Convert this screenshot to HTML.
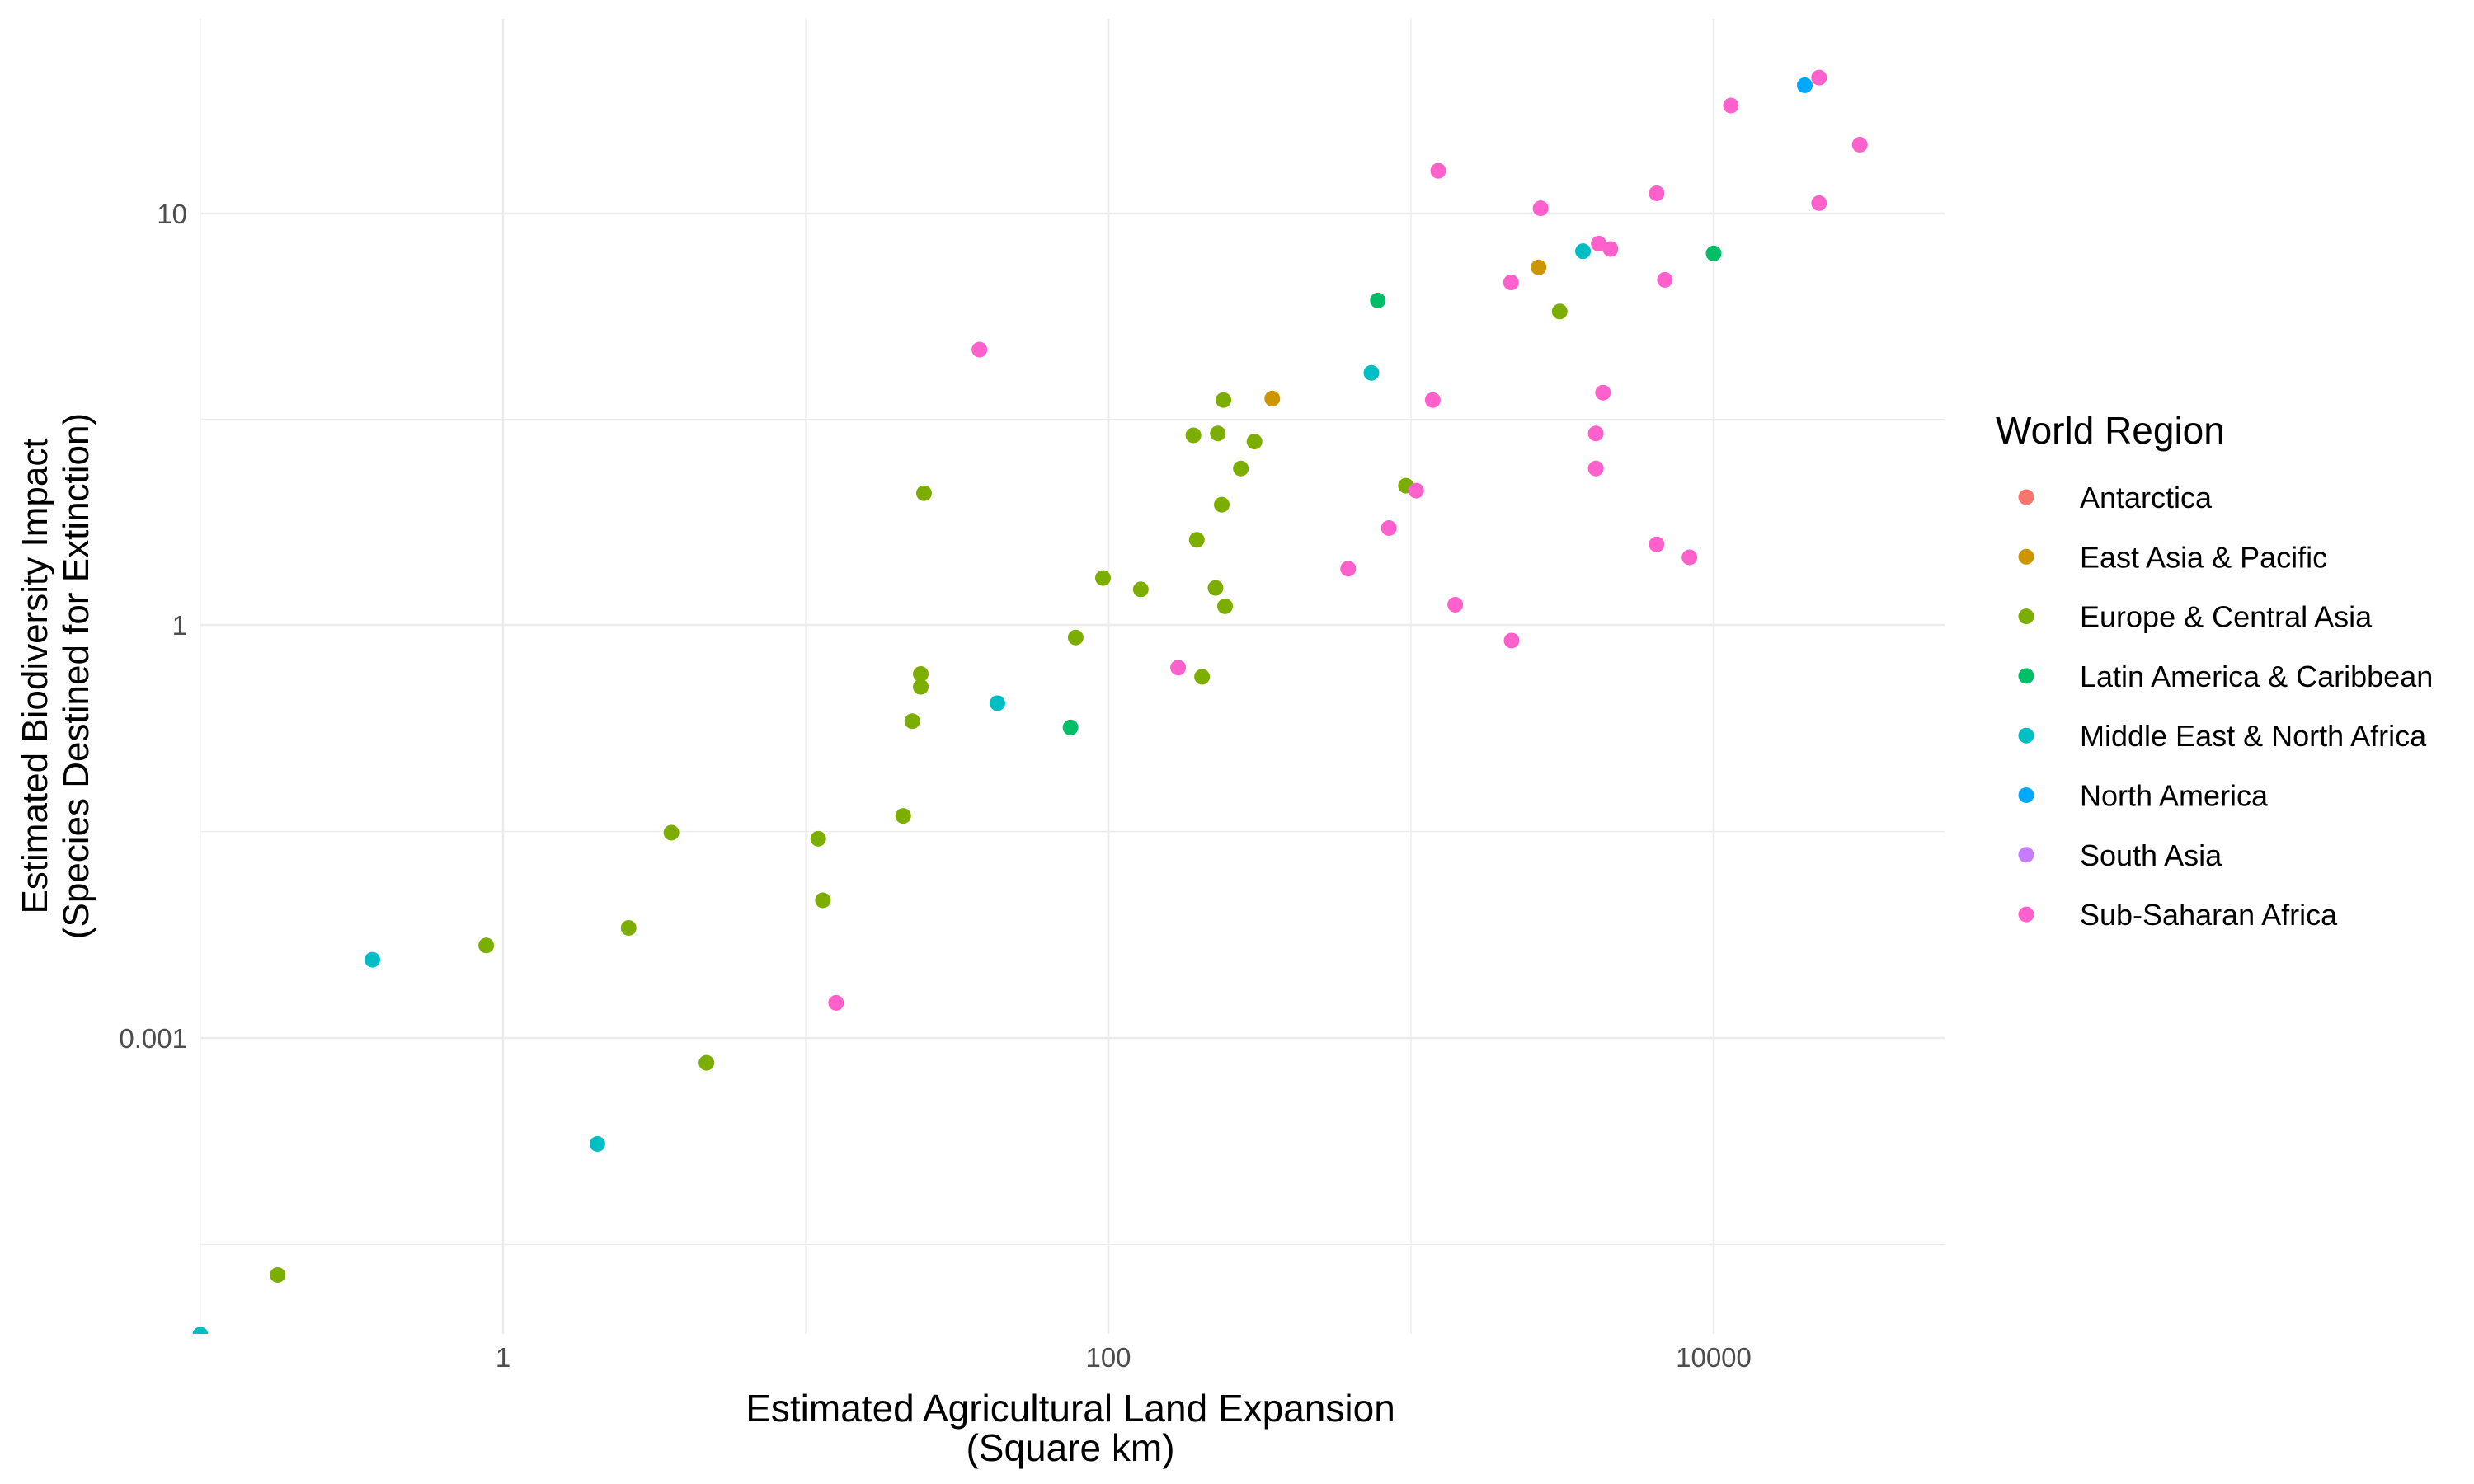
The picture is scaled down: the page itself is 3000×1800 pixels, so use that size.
<!DOCTYPE html>
<html><head><meta charset="utf-8"><style>
html,body{margin:0;padding:0;background:#fff;}
svg{display:block;font-family:"Liberation Sans",Arial,sans-serif;}
</style></head><body>
<svg id="chart" width="3000" height="1800" viewBox="0 0 3000 1800" xmlns="http://www.w3.org/2000/svg">
<rect width="3000" height="1800" fill="#fff"/>
<g id="grid"></g>
<g id="points"></g>
<g id="ticks"></g>
<text x="1298" y="1724" font-size="46" text-anchor="middle" fill="#000">Estimated Agricultural Land Expansion</text>
<text x="1298" y="1772" font-size="46" text-anchor="middle" fill="#000">(Square km)</text>
<g transform="translate(42,820) rotate(-90)"><text x="0" y="15" font-size="44" text-anchor="middle" fill="#000">Estimated Biodiversity Impact</text></g>
<g transform="translate(92,820) rotate(-90)"><text x="0" y="15" font-size="44" text-anchor="middle" fill="#000">(Species Destined for Extinction)</text></g>
<g id="legend">
<text x="2420" y="538" font-size="46" fill="#000">World Region</text>
</g>
</svg>
<script>
const regions=["Antarctica","East Asia & Pacific","Europe & Central Asia","Latin America & Caribbean","Middle East & North Africa","North America","South Asia","Sub-Saharan Africa"];
const regionColors=["#F8766D","#CD9600","#7CAE00","#00BE67","#00BFC4","#00A9FF","#C77CFF","#FF61CC"];
const xTicks=[1,100,10000];
const xTickLabels=["1","100","10000"];
const yTicks=[10,1,0.001];
const yTickLabels=["10","1","0.001"];
const ptRegion=[2,2,2,2,2,2,2,2,2,2,2,2,2,2,2,2,2,2,2,2,2,2,2,2,2,2,2,
1,1,3,3,3,4,4,4,4,4,4,5,
7,7,7,7,7,7,7,7,7,7,7,7,7,7,7,7,7,7,7,7,7,7,7,7,7];
const ptX=[0.18,0.88,2.6,3.6,4.7,11,11.4,21,22.5,24,24,24.6,78,96,128,191,196,204,226,230,237,240,243,274,304,962,3100,
348,2640,75,777,10000,0.1,0.37,2.05,43,740,3700,20000,
12.6,37.5,170,620,845,1040,1180,1230,1400,2140,2150,2680,4080,4080,4170,4310,4560,6480,6480,6900,8320,11400,22300,22300,30400];
const ptY=[0.000019,0.0047,0.0063,0.031,0.00066,0.028,0.01,0.041,0.2,0.44,0.355,2.09,0.81,1.3,1.22,2.89,1.61,0.42,1.23,2.92,1.96,3.52,1.11,2.4,2.79,2.18,5.78,
3.55,7.4,0.18,6.15,8.0,0.000007,0.0037,0.00017,0.27,4.1,8.1,20.5,
0.0018,4.67,0.49,1.37,1.72,2.12,3.52,12.7,1.12,6.8,0.77,10.3,2.92,2.4,8.45,3.67,8.2,11.2,1.57,6.9,1.46,18.3,21.4,10.6,14.7];

const NS="http://www.w3.org/2000/svg";
const PL=243,PR=2358,PT=23,PB=1618;
function xs(v){return 610+367*Math.log10(v);}
function ys(v){const L=Math.log10(v);return L>=0?758-499*L:758+167*(-L);}
function mk(tag,attrs,parent){const e=document.createElementNS(NS,tag);for(const k in attrs)e.setAttribute(k,attrs[k]);parent.appendChild(e);return e;}
const grid=document.getElementById('grid'),pts=document.getElementById('points'),tk=document.getElementById('ticks'),lg=document.getElementById('legend');
[0.1,10,1000,100000].forEach(v=>{const x=xs(v);if(x>=PL-1&&x<=PR){const l=mk('line',{x1:x,x2:x,y1:PT,y2:PB,stroke:'#EBEBEB','stroke-width':1.3},grid);

}});
[Math.sqrt(10)*10,Math.sqrt(10),Math.pow(10,-1.5),Math.pow(10,-4.5)].forEach(v=>{const y=ys(v);if(y>=PT&&y<=PB){const l=mk('line',{x1:PL,x2:PR,y1:y,y2:y,stroke:'#EBEBEB','stroke-width':1.3},grid);

}});
xTicks.forEach((v,i)=>{const x=xs(v);const l=mk('line',{x1:x,x2:x,y1:PT,y2:PB,stroke:'#EBEBEB','stroke-width':2.6},grid);


const t=mk('text',{x:x,y:1658,'font-size':33,'text-anchor':'middle',fill:'#4D4D4D'},tk);t.textContent=xTickLabels[i];

});
yTicks.forEach((v,i)=>{const y=ys(v);const l=mk('line',{x1:PL,x2:PR,y1:y,y2:y,stroke:'#EBEBEB','stroke-width':2.6},grid);


const t=mk('text',{x:227,y:y+12,'font-size':33,'text-anchor':'end',fill:'#4D4D4D'},tk);t.textContent=yTickLabels[i];

});
const defs=mk('defs',{},document.getElementById('chart'));const cp=mk('clipPath',{id:'pc'},defs);mk('rect',{x:PL-12,y:PT-12,width:PR-PL+24,height:PB-PT+12},cp);
pts.setAttribute('clip-path','url(#pc)');
ptX.forEach((v,i)=>{const c=mk('circle',{cx:xs(v),cy:ys(ptY[i]),r:9.5,fill:regionColors[ptRegion[i]]},pts);

});
regions.forEach((r,i)=>{const y=603+72.3*i;
const c=mk('circle',{cx:2457,cy:y,r:9.5,fill:regionColors[i]},lg);


const t=mk('text',{x:2522,y:y+13,'font-size':36,fill:'#000'},lg);t.textContent=r;

});
</script>
</body></html>
